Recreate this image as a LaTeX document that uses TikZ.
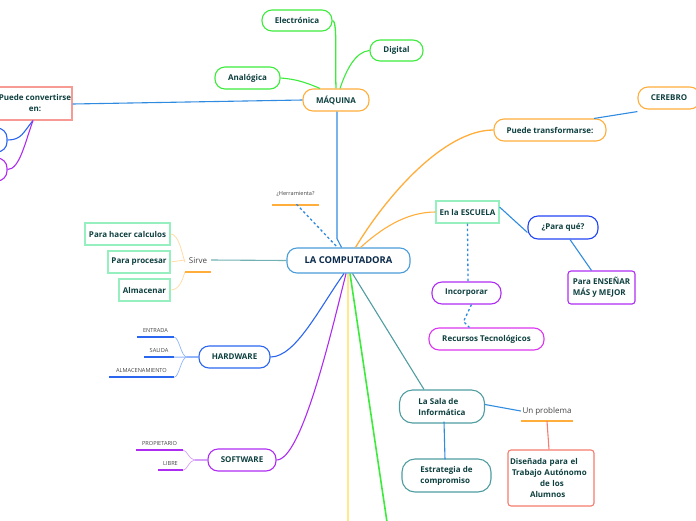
\documentclass[tikz,border=0pt]{standalone}
\usepackage{fontspec}
\setmainfont{Open Sans}
\definecolor{tinta}{HTML}{0E3F3F}
\definecolor{tintaraiz}{HTML}{0B2A4A}
\definecolor{gris}{HTML}{444444}
\definecolor{verde}{HTML}{3CEB3C}
\definecolor{naranja}{HTML}{FFAE3B}
\definecolor{azul}{HTML}{2F8BE0}
\definecolor{azulfuerte}{HTML}{2A66F0}
\definecolor{azuloscuro}{HTML}{2244F5}
\definecolor{menta}{HTML}{96EFBE}
\definecolor{morado}{HTML}{AE2CF2}
\definecolor{magenta2}{HTML}{DA35F0}
\definecolor{verdeazul}{HTML}{4F9DA0}
\definecolor{rojo}{HTML}{F57C6E}
\definecolor{rosa}{HTML}{F79A94}
\definecolor{raizborde}{HTML}{4A9DD8}
\definecolor{amarillo}{HTML}{FFE98A}
\definecolor{naranjaclaro}{HTML}{FFD9A0}
\definecolor{azulclaro}{HTML}{8FB4FA}
\definecolor{moradoclaro}{HTML}{D6A0F8}
\begin{document}
\begin{tikzpicture}[x=1pt,y=-1pt,
    caja/.style={draw,line width=1.1pt,inner sep=0pt,align=center,text=tinta,
        font=\fontsize{8}{11}\selectfont\bfseries},
    pildora/.style={caja,rounded corners=10pt},
    cuadro/.style={caja,draw=menta},
    tema/.style={inner sep=0pt,text=gris,font=\fontsize{8}{10}\selectfont},
    temita/.style={inner sep=0pt,text=gris,font=\fontsize{5.6}{7}\selectfont},
    raya/.style={line width=1.5pt},
    enlace/.style={line width=1.1pt},
    punteado/.style={line width=1.3pt,dash pattern=on 2.5pt off 2.5pt},
]
\clip (0,0) rectangle (696,520);

\node [pildora,draw=raizborde,text=tintaraiz,minimum width=123pt,minimum height=25pt,font=\fontsize{9.4}{12}\selectfont\bfseries] (raiz) at (348.5,260.5){LA COMPUTADORA};

\node [pildora,draw=naranja,minimum width=66pt,minimum height=22pt] (maquina) at (336,100){MÁQUINA};
\node [pildora,draw=verde,minimum width=70pt,minimum height=21pt] (electronica) at (297,20.5){Electrónica};
\node [pildora,draw=verde,minimum width=53pt,minimum height=21pt] (digital) at (396.5,50.5){Digital};
\node [pildora,draw=verde,minimum width=65pt,minimum height=22pt] (analogica) at (247.5,78){Analógica};
\node [caja,draw=rosa,minimum width=74pt,minimum height=33pt] (convertirse) at (35,103.5){Puede convertirse\\en:};
\node [pildora,draw=azulfuerte,minimum width=40pt,minimum height=24pt] (hojaazul) at (-13,140){};
\node [pildora,draw=morado,minimum width=40pt,minimum height=23pt] (hojamorada) at (-13,169.5){};

\node [pildora,draw=naranja,minimum width=112pt,minimum height=22pt] (transformarse) at (550,130){Puede transformarse:};
\node [pildora,draw=naranja,minimum width=62pt,minimum height=22pt] (cerebro) at (669,98){CEREBRO};

\node [cuadro,minimum width=63pt,minimum height=22pt] (escuela) at (467.5,212){En la ESCUELA};
\node [pildora,draw=azuloscuro,minimum width=70pt,minimum height=23pt] (paraque) at (563,227.5){¿Para qué?};
\node [caja,draw=morado,rounded corners=3pt,minimum width=67pt,minimum height=33pt,align=left] (ensenar) at (601.5,287.5){Para ENSEÑAR\\MÁS y MEJOR};
\node [pildora,draw=morado,minimum width=69pt,minimum height=22pt] (incorporar) at (466.5,293){Incorporar};
\node [pildora,draw=magenta2,minimum width=115pt,minimum height=22pt] (recursos) at (486.5,339){Recursos Tecnológicos};

\node [pildora,draw=verdeazul,rounded corners=13pt,minimum width=85pt,minimum height=33pt,align=left] (sala) at (442,406.5){La Sala de\\Informática};
\node [pildora,draw=verdeazul,rounded corners=13pt,minimum width=89pt,minimum height=33pt,align=left] (estrategia) at (446.5,475.5){Estrategia de\\compromiso};
\node [tema,minimum width=52pt,minimum height=20pt] (problema) at (547,411){Un problema};
\node [caja,draw=rojo,rounded corners=3pt,minimum width=86pt,minimum height=56pt,text width=82pt,align=left] (disenada) at (551,478){Diseñada para el\\\hspace*{2pt}Trabajo Autónomo\\\hspace*{30pt}de los\\\hspace*{20pt}Alumnos};

\node [cuadro,minimum width=85pt,minimum height=22pt] (calculos) at (127.5,234){Para hacer calculos};
\node [cuadro,minimum width=62pt,minimum height=22pt] (procesar) at (139,262){Para procesar};
\node [cuadro,minimum width=51pt,minimum height=22pt] (almacenar) at (144.5,290){Almacenar};
\node [tema,minimum width=26pt,minimum height=22pt] (sirve) at (198,261){Sirve};

\node [pildora,draw=azulfuerte,minimum width=71pt,minimum height=22pt] (hardware) at (234.5,357){HARDWARE};
\node [temita,minimum width=37pt,minimum height=14pt] (entrada) at (155.5,330){ENTRADA};
\node [temita,minimum width=30pt,minimum height=14pt] (salida) at (159,350){SALIDA};
\node [temita,minimum width=65pt,minimum height=14pt] (almacenamiento) at (141.5,370){ALMACENAMIENTO};
\coordinate (unionhw) at (187,357);

\node [pildora,draw=morado,minimum width=68pt,minimum height=22pt] (software) at (242,460){SOFTWARE};
\node [temita,minimum width=47pt,minimum height=14pt] (propietario) at (159.5,443){PROPIETARIO};
\node [temita,minimum width=25pt,minimum height=14pt] (libre) at (170.5,463){LIBRE};
\coordinate (unionsw) at (195,460);

\node [temita,minimum width=47pt,minimum height=22pt] (herramienta) at (295.5,194){¿Herramienta?};
\coordinate (fondoverde) at (387,522);
\coordinate (fondoamarillo) at (348,522);

\draw[raya,naranja] (sirve.south west)--(sirve.south east);
\draw[raya,naranja] (problema.south west)--(problema.south east);
\draw[raya,naranja] (herramienta.south west)--(herramienta.south east);
\draw[raya,azulfuerte] (entrada.south west)--(entrada.south east);
\draw[raya,azulfuerte] (salida.south west)--(salida.south east);
\draw[raya,azulfuerte] (almacenamiento.south west)--(almacenamiento.south east);
\draw[raya,morado] (propietario.south west)--(propietario.south east);
\draw[raya,morado] (libre.south west)--(libre.south east);

\draw[enlace,azul] ([xshift=1pt]maquina.south) -- ++(0,127) -- ([xshift=-7pt]raiz.north);
\draw[enlace,verde,line width=1.3pt] (electronica.east) .. controls +(5,0) and +(-1,-30) .. (maquina.north);
\draw[enlace,verde] (digital.west) .. controls +(-14,1) and +(6,-18) .. ([xshift=4pt]maquina.north);
\draw[enlace,verde] (analogica.east) .. controls +(15,1) and +(-14,-6) .. ([xshift=-16pt]maquina.north);
\draw[enlace,azul] (maquina.west) -- ([yshift=-0.5pt]convertirse.east);
\draw[enlace,azulfuerte] (hojaazul.east) .. controls +(14,0) and +(-10,12) .. ([xshift=-2pt]convertirse.south);
\draw[enlace,morado] (hojamorada.east) .. controls +(12,0) and +(-8,22) .. ([xshift=-2pt]convertirse.south);

\draw[enlace,naranja,line width=1.3pt] ([xshift=7pt]raiz.north) .. controls +(30,-50) and +(-50,0) .. (transformarse.west);
\draw[enlace,naranja] ([xshift=12pt]raiz.north) .. controls +(20,-18) and +(-30,0) .. (escuela.west);
\draw[enlace,azul] ([xshift=44pt]transformarse.north) -- ([yshift=-2pt]cerebro.south west);
\draw[enlace,azul] ([yshift=5pt]escuela.east) -- ([yshift=-5pt]paraque.west);
\draw[enlace,azul] ([xshift=7pt]paraque.south) -- ([xshift=-10pt]ensenar.north);
\draw[azul,punteado] (escuela.south) -- ([xshift=1.5pt]incorporar.north);
\draw[azul,punteado] ([xshift=5pt]incorporar.south) -- ++(-8,17) -- ([xshift=-17pt]recursos.north);
\draw[enlace,verdeazul] ([xshift=4pt]raiz.south) -- ([xshift=-18pt]sala.north);
\draw[enlace,azul] ([yshift=2pt]sala.east) -- (problema.west);
\draw[enlace,rojo] (problema.south) -- ([xshift=-2pt]disenada.north);
\draw[enlace,azul] ([xshift=2pt,yshift=2pt]sala.south) -- ([xshift=-1.5pt,yshift=-1pt]estrategia.north);
\draw[enlace,amarillo] ([xshift=-0.5pt]raiz.south) -- (fondoamarillo);
\draw[enlace,verde,line width=1.6pt] ([xshift=1.5pt]raiz.south) -- (fondoverde);

\draw[enlace,azulfuerte] (hardware.east) .. controls +(25,0) and +(-25,35) .. ([xshift=-4.5pt]raiz.south);
\draw[enlace,morado] (software.east) .. controls +(25,0) and +(-15,60) .. ([xshift=-2.5pt]raiz.south);
\draw[enlace,verdeazul,opacity=0.8] (raiz.west) -- ([yshift=1pt]sirve.east);
\draw[azul,punteado] ([xshift=1pt,yshift=1pt]herramienta.south) -- ([xshift=-11pt]raiz.north);

\draw[naranjaclaro,line width=0.7pt] (calculos.east) .. controls +(8,0) and +(-3,-10) .. ([yshift=-1pt]sirve.west);
\draw[naranjaclaro,line width=0.7pt] (procesar.east) -- ([yshift=1pt]sirve.west);
\draw[naranjaclaro,line width=0.7pt] (almacenar.east) .. controls +(8,0) and +(-3,10) .. (sirve.south west);

\draw[azulclaro,line width=1.2pt] (hardware.west) -- (unionhw);
\draw[azulclaro,line width=0.7pt] (unionhw) .. controls +(-6,0) and +(5,0) .. (entrada.south east);
\draw[azulclaro,line width=1pt] (unionhw) -- (salida.south east);
\draw[azulclaro,line width=0.7pt] (unionhw) .. controls +(-6,0) and +(5,0) .. (almacenamiento.south east);
\draw[moradoclaro,line width=1.2pt] (software.west) -- (unionsw);
\draw[moradoclaro,line width=0.7pt] (unionsw) .. controls +(-6,0) and +(4,0) .. (propietario.south east);
\draw[moradoclaro,line width=0.7pt] (unionsw) .. controls +(-6,0) and +(4,0) .. (libre.south east);

\end{tikzpicture}
\end{document}
